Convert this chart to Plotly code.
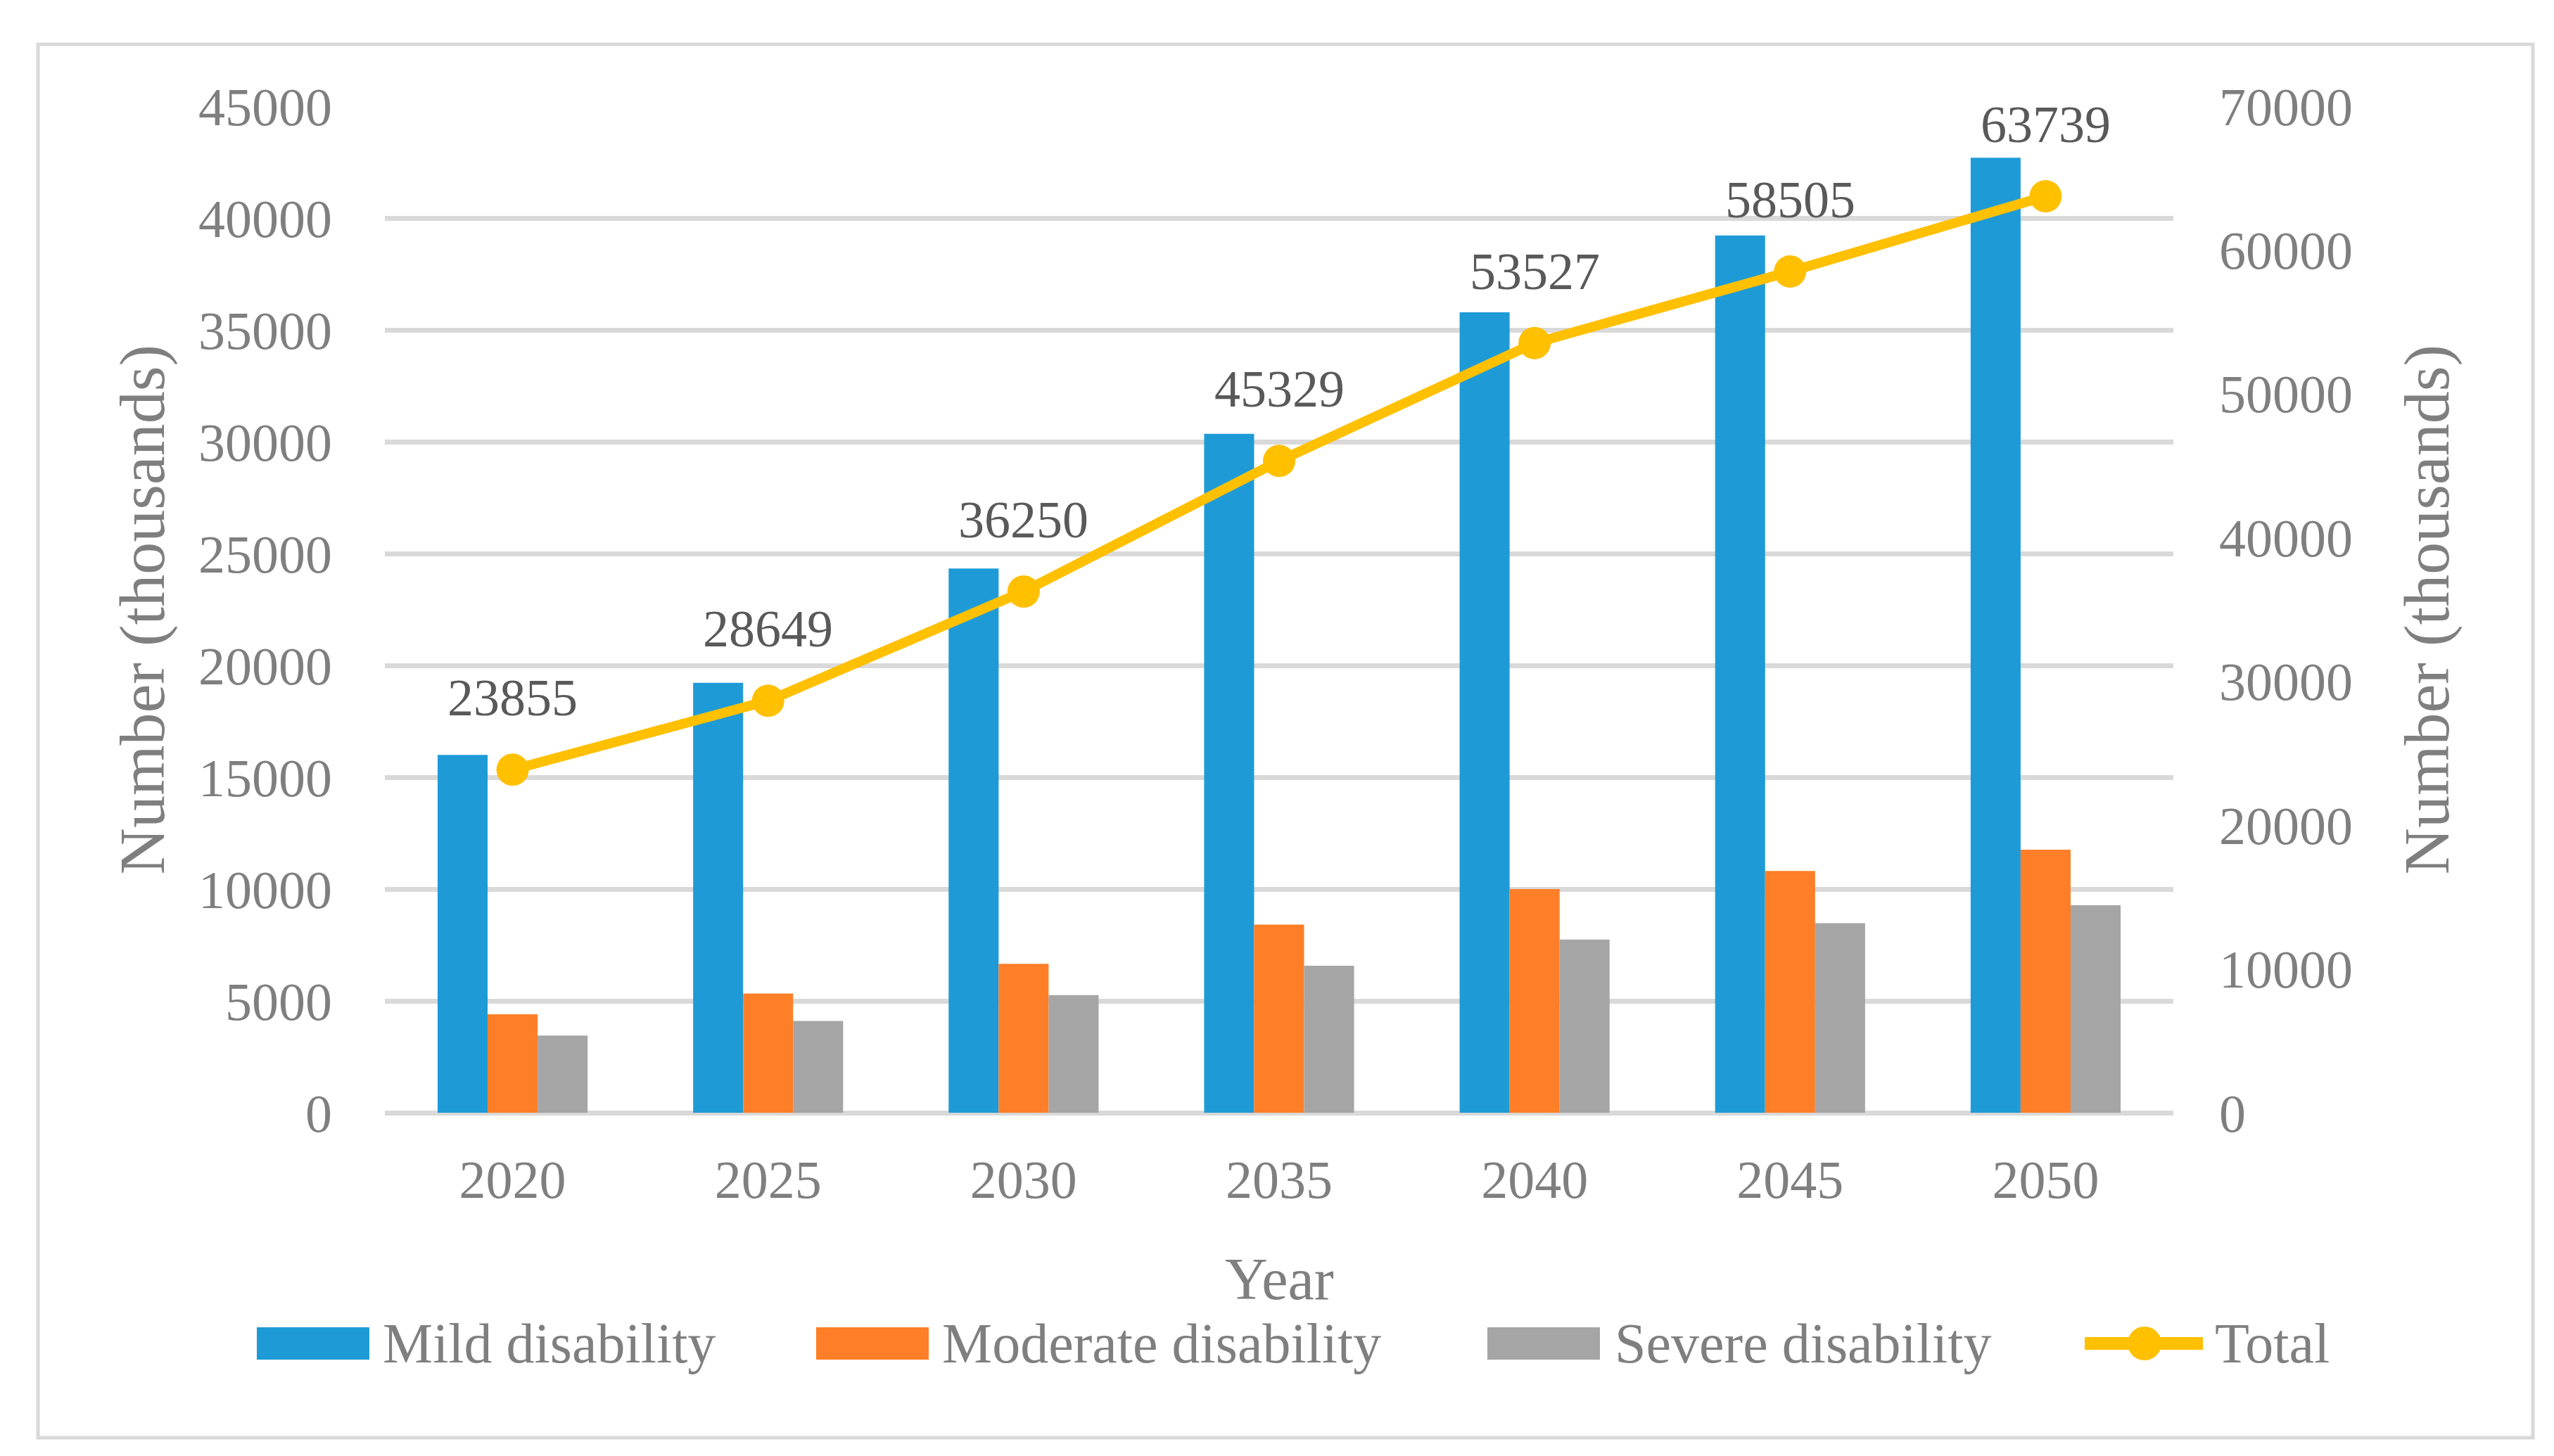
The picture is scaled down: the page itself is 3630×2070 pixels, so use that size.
import plotly.graph_objects as go

# data (thousands)
years = [2020, 2025, 2030, 2035, 2040, 2045, 2050]
mild = [16000, 19220, 24330, 30350, 35790, 39220, 42700]
moderate = [4400, 5330, 6660, 8410, 10000, 10810, 11760]
severe = [3455, 4100, 5260, 6570, 7740, 8475, 9280]
total = [23855, 28649, 36250, 45329, 53527, 58505, 63739]

left_ticks = list(range(0, 45001, 5000))
right_ticks = list(range(0, 70001, 10000))

series_names = ["Mild disability", "Moderate disability", "Severe disability", "Total"]
colors = ["#1E9BD7", "#FE7F27", "#A5A5A5", "#FFC000"]

FONT = "Palatino Linotype, Book Antiqua, Palatino, Liberation Serif, serif"
GREY_TXT = "#7F7F7F"
GRID = "#D9D9D9"

W, H = 3630, 2070
L, R, T, B = 539, 3081, 143, 1574  # plot area in pixels


def px_x(p):
    return (p - L) / (R - L)


def px_y(p):
    return (B - p) / (B - T)


fig = go.Figure()
for name, vals, col in zip(series_names[:3], [mild, moderate, severe], colors[:3]):
    fig.add_trace(go.Bar(x=years, y=vals, name=name, marker=dict(color=col, line=dict(width=0))))

fig.add_trace(go.Scatter(
    x=years, y=total, name="Total", yaxis="y2", mode="lines+markers",
    line=dict(color=colors[3], width=14),
    marker=dict(color=colors[3], size=46),
))

annotations = []
# data labels above the Total line
for yr, v in zip(years, total):
    annotations.append(dict(
        x=yr, y=v, xref="x", yref="y2", text=str(v), showarrow=False,
        xanchor="center", yanchor="middle", yshift=102,
        font=dict(family=FONT, size=74, color="#595959"),
    ))

# axis titles
annotations.append(dict(x=px_x(193), y=0.5, xref="paper", yref="paper", text="Number (thousands)",
                        textangle=-90, xanchor="center", yanchor="middle", showarrow=False,
                        font=dict(family=FONT, size=92, color=GREY_TXT)))
annotations.append(dict(x=px_x(3440), y=0.5, xref="paper", yref="paper", text="Number (thousands)",
                        textangle=-90, xanchor="center", yanchor="middle", showarrow=False,
                        font=dict(family=FONT, size=92, color=GREY_TXT)))
annotations.append(dict(x=0.5, y=px_y(1810), xref="paper", yref="paper", text="Year",
                        xanchor="center", yanchor="middle", showarrow=False,
                        font=dict(family=FONT, size=84, color=GREY_TXT)))

shapes = [dict(type="rect", xref="paper", yref="paper", x0=px_x(46), x1=px_x(3592),
               y0=px_y(55), y1=px_y(2036), line=dict(color=GRID, width=5), layer="below")]

# hand-made legend (Plotly's legend symbols do not scale up)
leg_y = 1902
leg_items = [(357, 534), (1152, 1329), (2106, 2285)]
for (rx, tx), name, col in zip(leg_items, series_names[:3], colors[:3]):
    shapes.append(dict(type="rect", xref="paper", yref="paper", x0=px_x(rx), x1=px_x(rx + 160),
                       y0=px_y(leg_y + 23), y1=px_y(leg_y - 23), fillcolor=col, line=dict(width=0)))
    annotations.append(dict(x=px_x(tx), y=px_y(leg_y), xref="paper", yref="paper", text=name,
                            xanchor="left", yanchor="middle", showarrow=False,
                            font=dict(family=FONT, size=80, color=GREY_TXT)))
shapes.append(dict(type="line", xref="paper", yref="paper", x0=px_x(2955), x1=px_x(3123),
                   y0=px_y(leg_y), y1=px_y(leg_y), line=dict(color=colors[3], width=18)))
shapes.append(dict(type="circle", xref="paper", yref="paper", x0=px_x(3016), x1=px_x(3064),
                   y0=px_y(leg_y + 24), y1=px_y(leg_y - 24), fillcolor=colors[3], line=dict(width=0)))
annotations.append(dict(x=px_x(3138), y=px_y(leg_y), xref="paper", yref="paper", text="Total",
                        xanchor="left", yanchor="middle", showarrow=False,
                        font=dict(family=FONT, size=80, color=GREY_TXT)))

fig.update_layout(
    width=W, height=H,
    margin=dict(l=L, r=W - R, t=T, b=H - B),
    paper_bgcolor="white", plot_bgcolor="white",
    barmode="group", bargap=0.413, bargroupgap=0,
    showlegend=False,
    font=dict(family=FONT, size=76, color=GREY_TXT),
    xaxis=dict(range=[2017.5, 2052.5], tickvals=years, showgrid=False, zeroline=False,
               showline=False, ticks="", ticklabelstandoff=44,
               tickfont=dict(size=76, color=GREY_TXT)),
    yaxis=dict(range=[0, 45000], tickvals=left_ticks, tickformat="d", showgrid=True,
               gridcolor=GRID, gridwidth=7, zeroline=True, zerolinecolor=GRID, zerolinewidth=7,
               showline=False, ticks="", ticklabelstandoff=74,
               tickfont=dict(size=76, color=GREY_TXT)),
    yaxis2=dict(range=[0, 70000], tickvals=right_ticks, tickformat="d", overlaying="y",
                side="right", showgrid=False, zeroline=False, showline=False, ticks="",
                ticklabelstandoff=64, tickfont=dict(size=76, color=GREY_TXT)),
    annotations=annotations,
    shapes=shapes,
)

fig.write_html("out.html")
